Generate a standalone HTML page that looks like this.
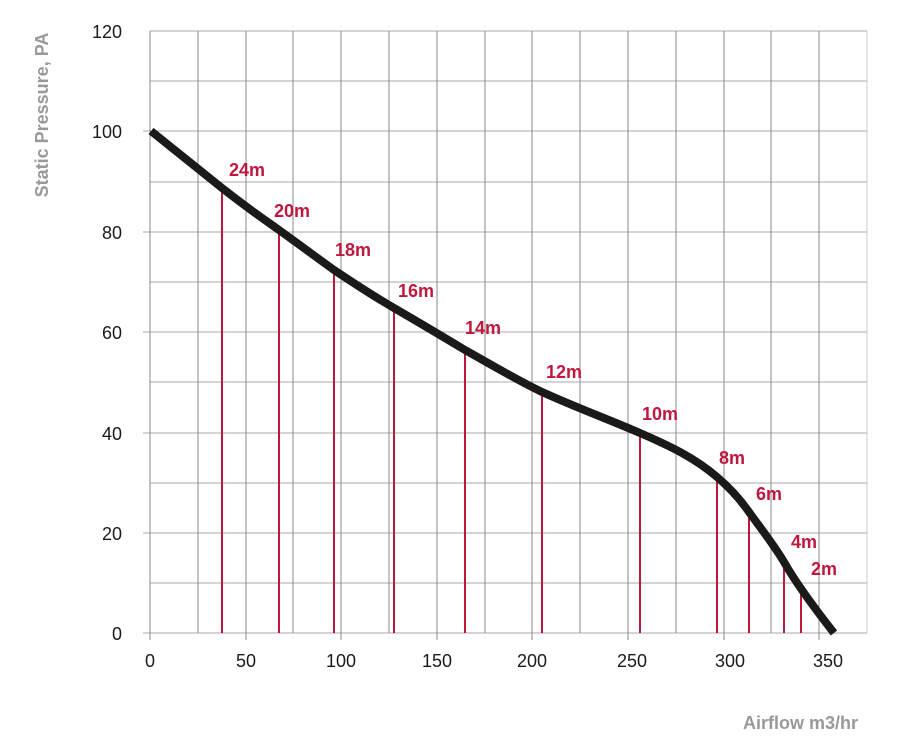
<!DOCTYPE html>
<html><head><style>body{margin:0;background:#fff}</style></head><body>
<svg width="900" height="747" xmlns="http://www.w3.org/2000/svg" font-family="Liberation Sans, sans-serif">
<g stroke="#aaa" stroke-width="1">
<line x1="150" y1="31" x2="867" y2="31"/><line x1="150" y1="81" x2="867" y2="81"/><line x1="143" y1="131" x2="867" y2="131"/><line x1="150" y1="182" x2="867" y2="182"/><line x1="143" y1="232" x2="867" y2="232"/><line x1="150" y1="282" x2="867" y2="282"/><line x1="143" y1="332" x2="867" y2="332"/><line x1="150" y1="382" x2="867" y2="382"/><line x1="143" y1="433" x2="867" y2="433"/><line x1="150" y1="483" x2="867" y2="483"/><line x1="143" y1="533" x2="867" y2="533"/><line x1="150" y1="583" x2="867" y2="583"/><line x1="143" y1="633" x2="867" y2="633"/>
</g>
<g stroke="#888" stroke-width="1">
<line x1="150" y1="31" x2="150" y2="640"/><line x1="198" y1="31" x2="198" y2="633"/><line x1="246" y1="31" x2="246" y2="640"/><line x1="293" y1="31" x2="293" y2="633"/><line x1="341" y1="31" x2="341" y2="640"/><line x1="389" y1="31" x2="389" y2="633"/><line x1="437" y1="31" x2="437" y2="640"/><line x1="485" y1="31" x2="485" y2="633"/><line x1="532" y1="31" x2="532" y2="640"/><line x1="580" y1="31" x2="580" y2="633"/><line x1="628" y1="31" x2="628" y2="640"/><line x1="676" y1="31" x2="676" y2="633"/><line x1="724" y1="31" x2="724" y2="640"/><line x1="771" y1="31" x2="771" y2="633"/><line x1="819" y1="31" x2="819" y2="640"/><line x1="867" y1="31" x2="867" y2="633" stroke="#ccc"/>
</g>
<g stroke="#c0173f" stroke-width="2">
<line x1="222" y1="188" x2="222" y2="633"/><line x1="279" y1="230" x2="279" y2="633"/><line x1="334" y1="270" x2="334" y2="633"/><line x1="394" y1="308" x2="394" y2="633"/><line x1="465" y1="350" x2="465" y2="633"/><line x1="542" y1="392" x2="542" y2="633"/><line x1="640" y1="433" x2="640" y2="633"/><line x1="717" y1="477" x2="717" y2="633"/><line x1="749" y1="512" x2="749" y2="633"/><line x1="784" y1="560" x2="784" y2="633"/><line x1="801" y1="590" x2="801" y2="633"/>
</g>
<path d="M151,131 L222,188 C250,210 265,220 279,230 C300,245 320,260 334,270 C355,284 375,297 394,308 C420,323 445,338 465,350 C490,364 515,379 542,392 C575,407 610,420 640,433 C670,446 695,458 717,477 C730,488 740,499 749,512 C762,530 774,545 784,562 C796,583 812,605 834,633" fill="none" stroke="#1b1a18" stroke-width="8"/>
<g fill="#c0173f" font-size="18" font-weight="bold">
<text x="229" y="176">24m</text><text x="274" y="217">20m</text><text x="335" y="256">18m</text><text x="398" y="297">16m</text><text x="465" y="334">14m</text><text x="546" y="378">12m</text><text x="642" y="420">10m</text><text x="719" y="464">8m</text><text x="756" y="500">6m</text><text x="791" y="548">4m</text><text x="811" y="575">2m</text>
</g>
<g fill="#1b1a18" font-size="18" text-anchor="end">
<text x="122" y="38">120</text><text x="122" y="138">100</text><text x="122" y="239">80</text><text x="122" y="339">60</text><text x="122" y="440">40</text><text x="122" y="540">20</text><text x="122" y="640">0</text>
</g>
<g fill="#1b1a18" font-size="18" text-anchor="middle">
<text x="150" y="667">0</text><text x="246" y="667">50</text><text x="341" y="667">100</text><text x="437" y="667">150</text><text x="532" y="667">200</text><text x="632" y="667">250</text><text x="730" y="667">300</text><text x="828" y="667">350</text>
</g>
<text transform="translate(48,115) rotate(-90)" fill="#999" font-size="18" font-weight="bold" text-anchor="middle">Static Pressure, PA</text>
<text x="858" y="729" fill="#999" font-size="18" font-weight="bold" text-anchor="end">Airflow m3/hr</text>
</svg>
</body></html>
